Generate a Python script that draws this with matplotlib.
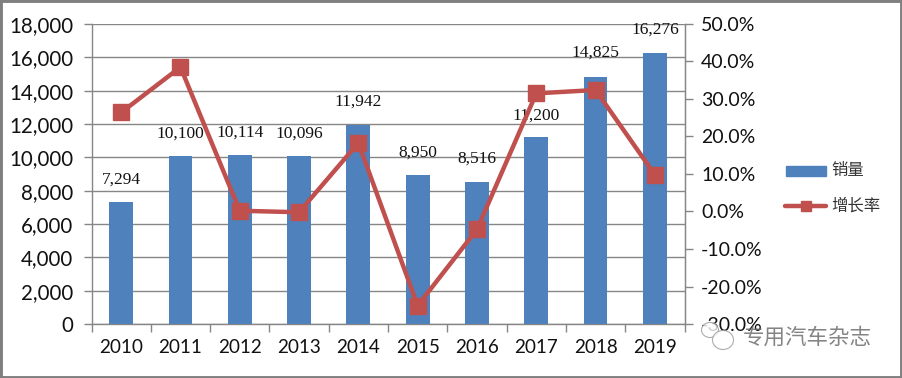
import matplotlib
matplotlib.use("Agg")
import matplotlib.pyplot as plt
from matplotlib.patches import Rectangle, Ellipse

years = ["2010","2011","2012","2013","2014","2015","2016","2017","2018","2019"]
sales = [7294,10100,10114,10096,11942,8950,8516,11200,14825,16276]
growth = [26.4,38.5,0.2,-0.2,18.3,-25.1,-4.8,31.5,32.4,9.8]
sales_ticks = list(range(0,18001,2000))
growth_ticks = list(range(-30,51,10))
label_offset=[11,10,11,10,11,10,11,10,12,11]
BLUE="#4F81BD"; RED="#C0504D"; GRID="#868686"; TXT="#111111"
W,H=902,378
plt.rcParams['font.family']=['Lato','Noto Sans CJK SC','DejaVu Sans']
fig=plt.figure(figsize=(W/100,H/100),dpi=100,facecolor="white")
L,R,T,B=91.5,684.5,24,324
ax=fig.add_axes([L/W,1-B/H,(R-L)/W,(B-T)/H])
x=list(range(len(years)))
ax.bar(x,sales,width=0.4,color=BLUE,zorder=3,label="销量")
ax.set_xlim(-0.5,9.5); ax.set_ylim(0,18000)
ax.set_yticks(sales_ticks); ax.set_yticklabels([f"{v:,}" for v in sales_ticks],fontsize=14.8,color=TXT)
ax.set_xticks([i-0.5 for i in range(11)],minor=False); ax.set_xticklabels([])
ax.set_xticks(x,minor=True); ax.set_xticklabels(years,minor=True,fontsize=13.6,color=TXT)
ax.tick_params(axis='x',which='minor',length=0,pad=11)
ax.tick_params(axis='x',which='major',length=6,color=GRID,width=1)
ax.tick_params(axis='y',length=6,color=GRID,width=1,pad=7)
ax.grid(axis='y',color=GRID,lw=1,zorder=0); ax.set_axisbelow(True)
for s in ax.spines.values(): s.set_color(GRID); s.set_linewidth(1)
ax.spines['top'].set_visible(False)
for i,v in enumerate(sales):
    ax.annotate(f"{v:,}",(i,v),xytext=(0,label_offset[i]),textcoords="offset points",
                ha="center",va="bottom",fontsize=12.5,family="Liberation Serif",color=TXT,zorder=6,annotation_clip=False)
ax2=ax.twinx()
ax2.set_ylim(-30,50); ax2.set_yticks(growth_ticks)
ax2.set_yticklabels([f"{v:.1f}%" for v in growth_ticks],fontsize=14,color=TXT)
ax2.tick_params(axis='y',length=6,color=GRID,width=1,pad=6)
for s in ax2.spines.values(): s.set_visible(False)
ax2.spines['right'].set_visible(True); ax2.spines['right'].set_color(GRID)
ax2.plot(x,growth,color=RED,lw=3.2,marker='s',ms=11,mfc=RED,mec=RED,zorder=5,label="增长率",clip_on=False)
# legend
fig.add_artist(Rectangle((786/W,1-176/H),40/W,10/H,transform=fig.transFigure,color=BLUE))
fig.text(831/W,1-171/H,"销量",fontsize=11.8,va="center",color="#333333",family="Noto Sans CJK SC")
fig.add_artist(plt.Line2D([785/W,826/W],[1-206/H]*2,color=RED,lw=3.2,solid_capstyle='round'))
fig.add_artist(plt.Line2D([805.5/W],[1-206/H],color=RED,marker='s',ms=7.5))
fig.text(831/W,1-206/H,"增长率",fontsize=11.8,va="center",color="#333333",family="Noto Sans CJK SC")
# watermark
fig.add_artist(Ellipse((710/W,1-330/H),17/W,15/H,transform=fig.transFigure,fc="white",ec="#999999",lw=0.8,alpha=0.8,zorder=8))
fig.add_artist(Ellipse((723/W,1-340/H),21/W,19/H,transform=fig.transFigure,fc="white",ec="#999999",lw=0.8,alpha=0.8,zorder=9))
fig.text(743/W,1-338/H,"专用汽车杂志",fontsize=15.5,va="center",color="#666666",alpha=0.8,family="Noto Sans CJK SC",zorder=10)
# outer frame
fig.add_artist(Rectangle((0,0),1,1,transform=fig.transFigure,fill=False,ec="#7F7F7F",lw=3.5))
fig.savefig("out.png",dpi=100)
